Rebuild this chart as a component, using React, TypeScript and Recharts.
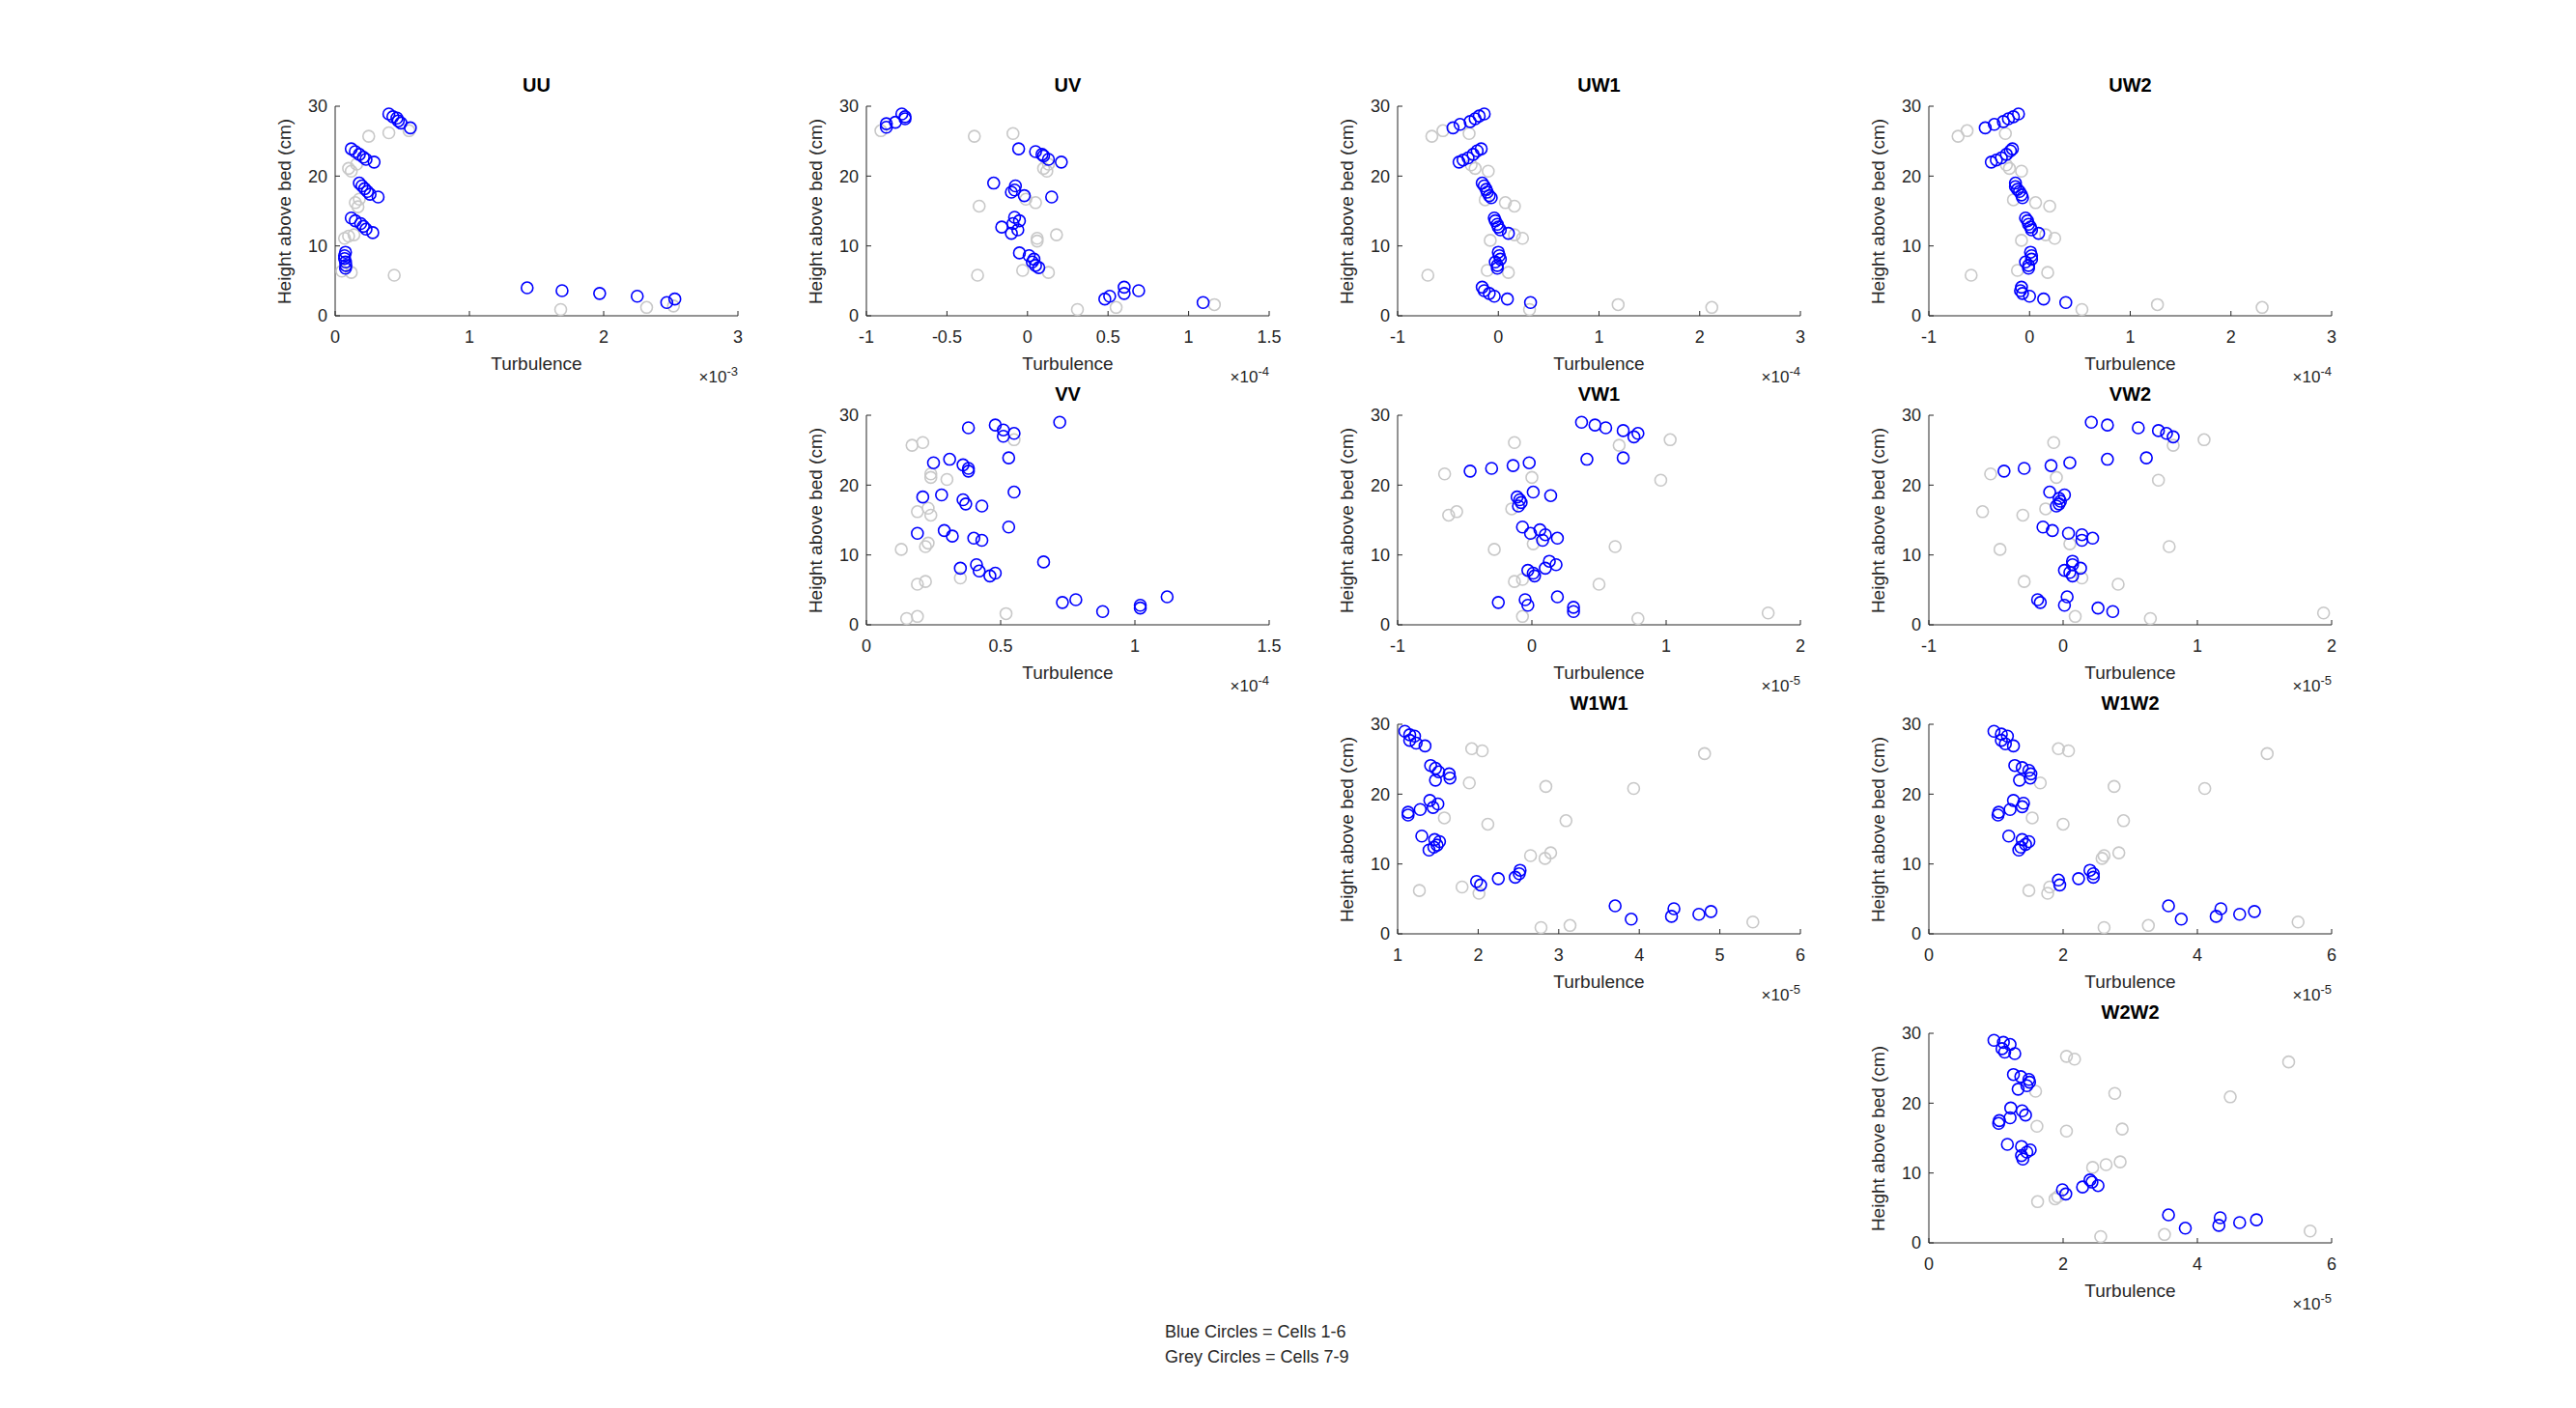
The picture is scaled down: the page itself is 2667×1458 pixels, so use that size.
import React from 'react';
import { ScatterChart, Scatter, XAxis, YAxis } from 'recharts';

type P = [number, number];

const uuBlue: P[] = [[0.40,28.9],[0.43,28.5],[0.46,28.3],[0.47,27.9],[0.49,27.6],[0.56,26.9],[0.12,23.9],[0.15,23.5],[0.18,23.1],[0.21,22.7],[0.23,22.4],[0.29,22.0],[0.18,19.0],[0.20,18.6],[0.22,18.2],[0.24,17.8],[0.26,17.4],[0.32,17.0],[0.12,14.0],[0.15,13.6],[0.19,13.2],[0.21,12.8],[0.23,12.4],[0.28,11.9],[0.077,9.1],[0.07,8.6],[0.07,8.2],[0.077,7.7],[0.08,7.2],[0.077,6.8],[1.43,4.0],[1.69,3.6],[1.97,3.2],[2.25,2.8],[2.47,1.9],[2.53,2.4]];
const uuGrey: P[] = [[0.25,25.7],[0.40,26.2],[0.55,26.5],[0.10,21.1],[0.12,20.7],[0.16,21.7],[0.15,16.2],[0.17,15.6],[0.18,16.7],[0.07,11.1],[0.10,11.4],[0.14,11.6],[0.05,6.4],[0.12,6.2],[0.44,5.8],[1.68,0.9],[2.32,1.2],[2.52,1.4]];

const uvBlue: P[] = [[-0.876,27.0],[-0.876,27.5],[-0.82,27.7],[-0.78,28.9],[-0.76,28.5],[-0.76,28.2],[-0.055,23.9],[0.05,23.5],[0.09,23.1],[0.10,22.9],[0.13,22.4],[0.21,22.0],[-0.21,19.0],[-0.075,18.6],[-0.08,18.0],[-0.10,17.7],[-0.02,17.2],[0.15,17.0],[-0.08,14.1],[-0.05,13.6],[-0.09,13.2],[-0.16,12.7],[-0.06,12.3],[-0.10,11.8],[-0.05,9.0],[0.01,8.6],[0.04,8.1],[0.03,7.7],[0.05,7.2],[0.07,6.9],[0.48,2.4],[0.51,2.8],[0.60,4.1],[0.60,3.2],[0.69,3.6],[1.09,1.9]];
const uvGrey: P[] = [[-0.33,25.7],[-0.09,26.1],[-0.91,26.5],[0.10,21.1],[0.12,20.7],[0.13,21.7],[-0.30,15.7],[-0.01,16.7],[0.05,16.2],[0.06,11.1],[0.06,10.7],[0.18,11.6],[-0.31,5.8],[-0.03,6.5],[0.13,6.2],[0.31,0.9],[0.55,1.2],[1.16,1.6]];

const uw1Blue: P[] = [[-0.45,26.9],[-0.38,27.4],[-0.28,27.8],[-0.23,28.2],[-0.19,28.6],[-0.14,28.9],[-0.39,22.0],[-0.35,22.3],[-0.30,22.6],[-0.25,23.1],[-0.21,23.6],[-0.17,23.9],[-0.16,19.0],[-0.14,18.6],[-0.12,18.1],[-0.11,17.7],[-0.09,17.2],[-0.07,16.9],[-0.04,14.0],[-0.03,13.6],[-0.01,13.1],[0.0,12.7],[0.02,12.3],[0.10,11.8],[0.0,9.1],[0.01,8.6],[0.02,8.1],[-0.03,7.7],[-0.01,7.2],[-0.01,6.8],[-0.16,4.1],[-0.14,3.6],[-0.09,3.2],[-0.04,2.8],[0.09,2.4],[0.32,1.9]];
const uw1Grey: P[] = [[-0.66,25.7],[-0.55,26.5],[-0.29,26.1],[-0.27,21.6],[-0.23,21.1],[-0.10,20.7],[-0.13,16.6],[0.07,16.2],[0.16,15.7],[-0.08,10.8],[0.16,11.6],[0.24,11.1],[-0.70,5.8],[-0.11,6.5],[0.10,6.2],[0.31,0.9],[1.19,1.6],[2.12,1.2]];

const uw2Blue: P[] = [[-0.44,26.9],[-0.35,27.4],[-0.26,27.8],[-0.21,28.2],[-0.16,28.5],[-0.11,28.9],[-0.38,22.0],[-0.33,22.3],[-0.28,22.6],[-0.23,23.1],[-0.19,23.6],[-0.17,23.9],[-0.14,19.0],[-0.14,18.5],[-0.12,18.1],[-0.10,17.8],[-0.08,17.3],[-0.07,16.9],[-0.04,14.0],[-0.02,13.6],[-0.01,13.1],[0.01,12.7],[0.02,12.3],[0.09,11.8],[0.01,9.1],[0.02,8.6],[0.02,8.1],[-0.04,7.7],[-0.01,7.2],[-0.01,6.8],[-0.08,4.1],[-0.09,3.6],[-0.07,3.2],[0.0,2.8],[0.14,2.4],[0.36,1.9]];
const uw2Grey: P[] = [[-0.71,25.7],[-0.62,26.5],[-0.24,26.1],[-0.23,21.6],[-0.20,21.1],[-0.08,20.7],[-0.16,16.6],[0.06,16.2],[0.20,15.7],[-0.08,10.8],[0.16,11.6],[0.25,11.1],[-0.58,5.8],[-0.12,6.5],[0.18,6.2],[0.52,0.9],[1.27,1.6],[2.31,1.2]];

const vvBlue: P[] = [[0.38,28.2],[0.48,28.6],[0.51,27.9],[0.51,27.0],[0.55,27.4],[0.72,29.0],[0.25,23.2],[0.31,23.7],[0.36,22.9],[0.38,22.4],[0.38,22.0],[0.53,23.9],[0.21,18.3],[0.28,18.6],[0.36,17.9],[0.37,17.3],[0.43,17.0],[0.55,19.0],[0.19,13.1],[0.29,13.5],[0.32,12.7],[0.40,12.4],[0.43,12.1],[0.53,14.0],[0.35,8.1],[0.41,8.6],[0.42,7.7],[0.46,7.0],[0.48,7.4],[0.66,9.0],[0.73,3.2],[0.78,3.6],[0.88,1.9],[1.02,2.8],[1.02,2.4],[1.12,4.0]];
const vvGrey: P[] = [[0.17,25.7],[0.21,26.1],[0.55,26.5],[0.24,21.6],[0.24,21.1],[0.30,20.8],[0.19,16.2],[0.23,16.7],[0.24,15.7],[0.13,10.8],[0.22,11.2],[0.23,11.7],[0.19,5.8],[0.22,6.2],[0.35,6.7],[0.15,0.9],[0.19,1.2],[0.52,1.6]];

const vw1Blue: P[] = [[0.37,29.0],[0.47,28.6],[0.55,28.2],[0.68,27.8],[0.76,26.9],[0.79,27.4],[-0.46,22.0],[-0.30,22.4],[-0.14,22.8],[-0.02,23.2],[0.41,23.7],[0.68,23.9],[-0.11,18.3],[-0.09,17.9],[-0.08,17.5],[-0.10,17.0],[0.01,19.0],[0.14,18.5],[-0.07,14.0],[-0.01,13.1],[0.06,13.6],[0.10,12.9],[0.08,12.1],[0.19,12.4],[-0.03,7.8],[0.01,7.4],[0.02,7.0],[0.10,8.1],[0.13,9.1],[0.18,8.6],[-0.25,3.2],[-0.05,3.6],[-0.03,2.8],[0.19,4.0],[0.31,2.5],[0.31,1.9]];
const vw1Grey: P[] = [[-0.13,26.1],[0.65,25.7],[1.03,26.5],[-0.65,21.6],[0.0,21.1],[0.96,20.7],[-0.62,15.7],[-0.56,16.2],[-0.15,16.6],[-0.28,10.8],[0.01,11.6],[0.62,11.2],[-0.13,6.2],[-0.07,6.5],[0.50,5.8],[-0.07,1.2],[0.79,0.9],[1.76,1.7]];

const vw2Blue: P[] = [[0.21,29.0],[0.33,28.6],[0.56,28.2],[0.71,27.8],[0.77,27.4],[0.82,26.9],[-0.44,22.0],[-0.29,22.4],[-0.09,22.8],[0.05,23.2],[0.33,23.7],[0.62,23.9],[-0.10,19.0],[0.01,18.6],[-0.03,18.1],[-0.02,17.7],[-0.03,17.3],[-0.05,17.0],[-0.15,14.0],[-0.08,13.5],[0.04,13.1],[0.14,12.9],[0.14,12.1],[0.22,12.4],[0.01,7.8],[0.05,7.5],[0.07,7.0],[0.07,9.1],[0.07,8.6],[0.13,8.1],[-0.19,3.6],[-0.17,3.2],[0.03,4.0],[0.01,2.8],[0.26,2.4],[0.37,1.9]];
const vw2Grey: P[] = [[-0.07,26.1],[0.82,25.7],[1.05,26.5],[-0.54,21.6],[-0.05,21.1],[0.71,20.7],[-0.60,16.2],[-0.30,15.7],[-0.13,16.6],[-0.47,10.8],[0.05,11.6],[0.79,11.2],[-0.29,6.2],[0.14,6.7],[0.41,5.8],[0.09,1.2],[0.65,0.9],[1.94,1.7]];

const w1w1Blue: P[] = [[1.09,29.0],[1.15,28.5],[1.21,28.3],[1.15,27.7],[1.23,27.3],[1.34,26.9],[1.41,24.1],[1.47,23.7],[1.51,23.2],[1.64,22.9],[1.65,22.3],[1.47,22.0],[1.13,17.4],[1.13,17.0],[1.28,17.8],[1.40,19.1],[1.44,18.1],[1.50,18.6],[1.30,14.0],[1.46,13.5],[1.52,13.2],[1.49,12.7],[1.45,12.4],[1.39,12.0],[1.98,7.5],[2.03,7.0],[2.25,7.9],[2.46,8.1],[2.51,8.6],[2.52,9.1],[3.70,4.0],[3.90,2.1],[4.40,2.5],[4.43,3.6],[4.74,2.8],[4.89,3.2]];
const w1w1Grey: P[] = [[1.92,26.5],[2.05,26.2],[4.81,25.8],[1.89,21.6],[2.84,21.1],[3.93,20.8],[1.58,16.6],[2.12,15.7],[3.09,16.2],[2.65,11.2],[2.83,10.8],[2.90,11.6],[1.27,6.2],[1.80,6.7],[2.01,5.8],[2.78,0.9],[3.14,1.2],[5.41,1.7]];

const w1w2Blue: P[] = [[0.97,29.0],[1.08,28.6],[1.17,28.3],[1.08,27.7],[1.14,27.2],[1.26,26.9],[1.28,24.1],[1.39,23.8],[1.49,23.4],[1.52,22.9],[1.51,22.3],[1.35,22.0],[1.04,17.4],[1.03,17.0],[1.21,17.8],[1.26,19.1],[1.41,18.7],[1.39,18.2],[1.19,14.0],[1.39,13.5],[1.49,13.2],[1.44,12.8],[1.37,12.4],[1.34,12.0],[1.93,7.7],[1.95,7.0],[2.23,7.9],[2.40,9.1],[2.45,8.6],[2.45,8.1],[3.57,4.0],[3.76,2.1],[4.28,2.5],[4.35,3.6],[4.63,2.8],[4.85,3.2]];
const w1w2Grey: P[] = [[1.93,26.5],[2.08,26.2],[5.04,25.8],[1.66,21.6],[2.76,21.1],[4.11,20.8],[1.54,16.6],[2.00,15.7],[2.90,16.2],[2.58,10.8],[2.61,11.2],[2.83,11.6],[1.49,6.2],[1.80,6.7],[1.77,5.8],[2.61,0.9],[3.27,1.2],[5.50,1.7]];

const w2w2Blue: P[] = [[0.97,29.0],[1.11,28.7],[1.21,28.4],[1.09,27.8],[1.13,27.3],[1.28,27.1],[1.26,24.1],[1.37,23.8],[1.49,23.4],[1.50,23.0],[1.46,22.5],[1.33,22.0],[1.05,17.5],[1.04,17.1],[1.21,17.9],[1.22,19.3],[1.39,18.9],[1.44,18.3],[1.17,14.1],[1.38,13.8],[1.51,13.3],[1.46,13.0],[1.38,12.5],[1.40,12.0],[1.99,7.6],[2.04,7.0],[2.29,8.0],[2.40,9.0],[2.43,8.7],[2.52,8.2],[3.57,4.0],[3.82,2.1],[4.32,2.5],[4.34,3.6],[4.63,2.9],[4.88,3.3]];
const w2w2Grey: P[] = [[2.05,26.7],[2.17,26.3],[5.36,25.9],[1.59,21.7],[2.77,21.4],[4.49,20.9],[1.61,16.7],[2.05,16.0],[2.88,16.3],[2.44,10.8],[2.64,11.2],[2.85,11.6],[1.62,5.9],[1.88,6.3],[1.92,6.6],[2.56,0.9],[3.51,1.2],[5.68,1.7]];

const yTicks = [0, 10, 20, 30];
const ticksUU = [0, 1, 2, 3];
const ticksUV = [-1, -0.5, 0, 0.5, 1, 1.5];
const ticksUW = [-1, 0, 1, 2, 3];
const ticksVV = [0, 0.5, 1, 1.5];
const ticksVW = [-1, 0, 1, 2];
const ticksW1W1 = [1, 2, 3, 4, 5, 6];
const ticksW = [0, 2, 4, 6];

const colLeft = [347, 897, 1447, 1997];
const rowTop = [110, 430, 750, 1070];
const PW = 417;
const PH = 217;
const FONT = '"Liberation Sans", Arial, Helvetica, sans-serif';
const TXT = '#262626';

const panels = [
  { title: 'UU', col: 0, row: 0, ticks: ticksUU, exp: -3, blue: uuBlue, grey: uuGrey },
  { title: 'UV', col: 1, row: 0, ticks: ticksUV, exp: -4, blue: uvBlue, grey: uvGrey },
  { title: 'UW1', col: 2, row: 0, ticks: ticksUW, exp: -4, blue: uw1Blue, grey: uw1Grey },
  { title: 'UW2', col: 3, row: 0, ticks: ticksUW, exp: -4, blue: uw2Blue, grey: uw2Grey },
  { title: 'VV', col: 1, row: 1, ticks: ticksVV, exp: -4, blue: vvBlue, grey: vvGrey },
  { title: 'VW1', col: 2, row: 1, ticks: ticksVW, exp: -5, blue: vw1Blue, grey: vw1Grey },
  { title: 'VW2', col: 3, row: 1, ticks: ticksVW, exp: -5, blue: vw2Blue, grey: vw2Grey },
  { title: 'W1W1', col: 2, row: 2, ticks: ticksW1W1, exp: -5, blue: w1w1Blue, grey: w1w1Grey },
  { title: 'W1W2', col: 3, row: 2, ticks: ticksW, exp: -5, blue: w1w2Blue, grey: w1w2Grey },
  { title: 'W2W2', col: 3, row: 3, ticks: ticksW, exp: -5, blue: w2w2Blue, grey: w2w2Grey },
];

const ring = (color: string) => (p: any) => (
  <circle cx={p.cx} cy={p.cy} r={6} fill="none" stroke={color} strokeWidth={1.6} />
);

const toObj = (a: P[]) => a.map(([x, y]) => ({ x, y }));

function Panel({ pnl }: { pnl: any }) {
  const left = colLeft[pnl.col];
  const top = rowTop[pnl.row];
  const tickStyle = { fontSize: 18, fill: TXT, fontFamily: FONT };
  return (
    <>
      <div style={{ position: 'absolute', left: left - 80, top: top - 40 }}>
        <ScatterChart width={80 + PW + 20} height={40 + PH + 70} margin={{ top: 40, right: 20, bottom: 0, left: 0 }}>
          <XAxis type="number" dataKey="x" domain={[pnl.ticks[0], pnl.ticks[pnl.ticks.length - 1]]} ticks={pnl.ticks} interval={0}
            height={70} tickSize={-5} tickMargin={20} stroke={TXT} tick={tickStyle} axisLine={{ stroke: TXT }} tickLine={{ stroke: TXT }} />
          <YAxis type="number" dataKey="y" domain={[0, 30]} ticks={yTicks} interval={0}
            width={80} tickSize={-5} tickMargin={13} stroke={TXT} tick={tickStyle} axisLine={{ stroke: TXT }} tickLine={{ stroke: TXT }} />
          <Scatter data={toObj(pnl.grey)} shape={ring('#c8c8c8')} isAnimationActive={false} />
          <Scatter data={toObj(pnl.blue)} shape={ring('#0000ff')} isAnimationActive={false} />
        </ScatterChart>
      </div>
      <div style={{ position: 'absolute', left, width: PW, top: top - 33, textAlign: 'center', fontWeight: 'bold', fontSize: 20, fontFamily: FONT, color: '#000' }}>{pnl.title}</div>
      <div style={{ position: 'absolute', left, width: PW, top: top + PH + 39, textAlign: 'center', fontSize: 19, fontFamily: FONT, color: TXT }}>Turbulence</div>
      <div style={{ position: 'absolute', left: left + PW - 120, width: 120, top: top + PH + 50, textAlign: 'right', fontSize: 17, fontFamily: FONT, color: TXT }}>
        ×10<sup style={{ fontSize: 13 }}>{pnl.exp}</sup>
      </div>
      <div style={{ position: 'absolute', left: left - 52 - 150, width: 300, top: top + PH / 2 - 12, textAlign: 'center', fontSize: 19, fontFamily: FONT, color: TXT, transform: 'rotate(-90deg)', transformOrigin: '150px 12px', lineHeight: '24px' }}>
        Height above bed (cm)
      </div>
    </>
  );
}

export default function App() {
  return (
    <div style={{ position: 'absolute', left: 0, top: 0, width: 2667, height: 1458, background: '#fff' }}>
      {panels.map((p) => <Panel key={p.title} pnl={p} />)}
      <div style={{ position: 'absolute', left: 1206, top: 1366, fontSize: 18, fontFamily: FONT, color: TXT, lineHeight: '26px' }}>
        Blue Circles = Cells 1-6<br />Grey Circles = Cells 7-9
      </div>
    </div>
  );
}
